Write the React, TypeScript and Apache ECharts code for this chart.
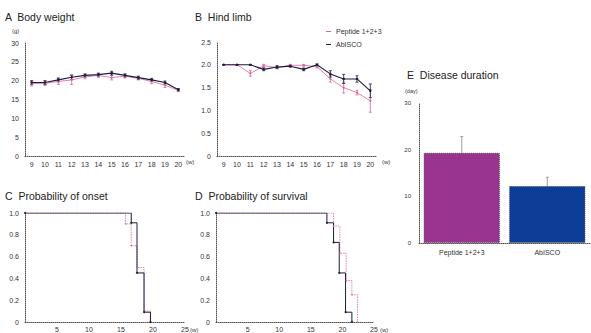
import React, { useEffect, useRef } from "react";
import * as echarts from "echarts";

const weeks = ["9", "10", "11", "12", "13", "14", "15", "16", "17", "18", "19", "20"];

const bwPeptide = [19.2, 19.3, 19.8, 20.2, 21.0, 21.4, 20.8, 21.2, 20.6, 19.8, 18.8, 17.4];
const bwPeptideErr = [0.6, 0.6, 0.8, 1.2, 0.5, 0.5, 0.6, 0.5, 0.4, 0.6, 0.6, 0.3];
const bwAbisco = [19.5, 19.5, 20.2, 20.9, 21.4, 21.6, 22.0, 21.4, 20.8, 20.2, 19.5, 17.6];
const bwAbiscoErr = [0.5, 0.5, 0.5, 0.6, 0.4, 0.4, 0.5, 0.4, 0.4, 0.4, 0.4, 0.3];

const hlPeptide = [2.0, 2.0, 1.81, 1.98, 1.94, 1.99, 1.99, 1.96, 1.69, 1.5, 1.39, 1.21];
const hlPeptideErr = [0, 0, 0.06, 0.03, 0.03, 0.02, 0.02, 0.03, 0.07, 0.12, 0.05, 0.25];
const hlAbisco = [2.0, 2.0, 2.0, 1.9, 1.95, 1.97, 1.9, 2.0, 1.8, 1.69, 1.69, 1.43];
const hlAbiscoErr = [0, 0, 0, 0.03, 0.03, 0.02, 0.03, 0.02, 0.07, 0.1, 0.07, 0.15];

const onsetPeptideX = [0, 15.7, 16.6, 17.5, 18.6, 19.6];
const onsetPeptideY = [1, 0.9, 0.7, 0.5, 0.1, 0];
const onsetAbiscoX = [0, 16.6, 17.5, 18.6, 19.6];
const onsetAbiscoY = [1, 0.91, 0.45, 0.09, 0];

const survPeptideX = [0, 18.6, 19.6, 20.6, 21.5, 22.4];
const survPeptideY = [1, 0.88, 0.63, 0.38, 0.25, 0];
const survAbiscoX = [0, 17.55, 18.6, 19.5, 20.5, 21.5];
const survAbiscoY = [1, 0.91, 0.73, 0.45, 0.09, 0];

const groups = ["Peptide 1+2+3", "AbISCO"];
const duration = [19.3, 12.2];
const durationErr = [3.5, 1.9];

const PINK = "#d8649a";
const DARK = "#1c1c3c";
const AXIS = "#555";
const FONT = "Liberation Sans";

const axisLine = { lineStyle: { color: AXIS, width: 1, type: [1, 1] as any } };
const lbl = { fontSize: 7, color: "#333", fontFamily: FONT };

function errData(vals: number[], errs: number[]) {
  return vals.map((v, i) => [i, v - errs[i], v + errs[i]]);
}

function errSeries(xi: number, data: any[], color: string, capOnlyTop = false) {
  return {
    type: "custom",
    xAxisIndex: xi,
    yAxisIndex: xi,
    silent: true,
    z: 1,
    encode: { x: 0, y: [1, 2] },
    data,
    renderItem: (params: any, api: any) => {
      const x = api.value(0);
      const lo = api.coord([x, api.value(1)]);
      const hi = api.coord([x, api.value(2)]);
      const st = { stroke: color, lineWidth: 0.8 };
      const ch: any[] = [
        { type: "line", shape: { x1: hi[0], y1: hi[1], x2: lo[0], y2: lo[1] }, style: st },
        { type: "line", shape: { x1: hi[0] - 1.5, y1: hi[1], x2: hi[0] + 1.5, y2: hi[1] }, style: st },
      ];
      if (!capOnlyTop)
        ch.push({ type: "line", shape: { x1: lo[0] - 1.5, y1: lo[1], x2: lo[0] + 1.5, y2: lo[1] }, style: st });
      return { type: "group", children: ch };
    },
  };
}

function zip(xs: number[], ys: number[]) {
  return xs.map((x, i) => [x, ys[i]]);
}

export default function App() {
  const ref = useRef<HTMLDivElement>(null);
  useEffect(() => {
    document.body.style.margin = "0";
    const chart = echarts.init(ref.current!, undefined, { renderer: "svg" });
    const titleStyle = { fontSize: 10.5, fontWeight: "normal" as const, color: "#222", fontFamily: FONT };
    const fmt1 = (v: number) => (v === 0 ? "0" : v.toFixed(1));
    const option: any = {
      animation: false,
      backgroundColor: "#fff",
      title: [
        { text: "A  Body weight", left: 3, top: 9, padding: 2, textStyle: titleStyle },
        { text: "B  Hind limb", left: 193, top: 9, padding: 2, textStyle: titleStyle },
        { text: "C  Probability of onset", left: 3, top: 188, padding: 2, textStyle: titleStyle },
        { text: "D  Probability of survival", left: 193, top: 188, padding: 2, textStyle: titleStyle },
        { text: "E  Disease duration", left: 405, top: 67, padding: 2, textStyle: titleStyle },
      ],
      legend: {
        data: groups,
        orient: "vertical",
        left: 321,
        top: 23,
        itemGap: 6,
        itemWidth: 5,
        itemHeight: 1,
        icon: "rect",
        textStyle: { fontSize: 7, color: "#333", fontFamily: FONT },
      },
      grid: [
        { left: 25, top: 43, width: 160, height: 113 },
        { left: 217, top: 42, width: 160, height: 114 },
        { left: 25, top: 213, width: 160, height: 113 },
        { left: 216, top: 213, width: 158, height: 113 },
        { left: 419, top: 103, width: 171, height: 140 },
      ],
      xAxis: [
        { gridIndex: 0, type: "category", data: weeks, boundaryGap: true, axisLine, axisTick: { show: false }, axisLabel: { ...lbl, margin: 5 } },
        { gridIndex: 1, type: "category", data: weeks, boundaryGap: true, axisLine, axisTick: { show: false }, axisLabel: { ...lbl, margin: 5 } },
        { gridIndex: 2, type: "value", min: 0, max: 25, interval: 5, axisLine, axisTick: { show: false }, splitLine: { show: false }, axisLabel: { ...lbl, margin: 4, formatter: (v: number) => (v === 0 ? "" : String(v)) } },
        { gridIndex: 3, type: "value", min: 0, max: 25, interval: 5, axisLine, axisTick: { show: false }, splitLine: { show: false }, axisLabel: { ...lbl, margin: 4, formatter: (v: number) => (v === 0 ? "" : String(v)) } },
        { gridIndex: 4, type: "category", data: groups, boundaryGap: true, axisLine, axisTick: { show: false }, axisLabel: { ...lbl, margin: 6 } },
      ],
      yAxis: [
        { gridIndex: 0, type: "value", min: 0, max: 30, interval: 5, axisLine: { show: true, ...axisLine }, splitLine: { show: false }, axisTick: { show: false }, axisLabel: { ...lbl, margin: 6 } },
        { gridIndex: 1, type: "value", min: 0, max: 2.5, interval: 0.5, axisLine: { show: true, ...axisLine }, splitLine: { show: false }, axisTick: { show: false }, axisLabel: { ...lbl, margin: 6, formatter: fmt1 } },
        { gridIndex: 2, type: "value", min: 0, max: 1, interval: 0.2, axisLine: { show: true, ...axisLine }, splitLine: { show: false }, axisTick: { show: false }, axisLabel: { ...lbl, margin: 6, formatter: fmt1 } },
        { gridIndex: 3, type: "value", min: 0, max: 1, interval: 0.2, axisLine: { show: true, ...axisLine }, splitLine: { show: false }, axisTick: { show: false }, axisLabel: { ...lbl, margin: 6, formatter: fmt1 } },
        { gridIndex: 4, type: "value", min: 0, max: 30, interval: 10, axisLine: { show: true, ...axisLine }, splitLine: { show: false }, axisTick: { show: false }, axisLabel: { ...lbl, fontSize: 6, margin: 8 } },
      ],
      graphic: [
        { type: "text", left: 12, top: 28, style: { text: "(g)", fontSize: 6, fill: "#333", fontFamily: FONT } },
        { type: "text", left: 186, top: 159, style: { text: "(w)", fontSize: 6, fill: "#333", fontFamily: FONT } },
        { type: "text", left: 382, top: 159, style: { text: "(w)", fontSize: 6, fill: "#333", fontFamily: FONT } },
        { type: "text", left: 190, top: 327, style: { text: "(w)", fontSize: 6, fill: "#333", fontFamily: FONT } },
        { type: "text", left: 380, top: 327, style: { text: "(w)", fontSize: 6, fill: "#333", fontFamily: FONT } },
        { type: "text", left: 405, top: 88, style: { text: "(day)", fontSize: 5.5, fill: "#333", fontFamily: FONT } },
      ],
      series: [
        errSeries(0, errData(bwPeptide, bwPeptideErr), PINK),
        errSeries(0, errData(bwAbisco, bwAbiscoErr), DARK),
        { name: groups[0], type: "line", xAxisIndex: 0, yAxisIndex: 0, data: bwPeptide, symbol: "circle", symbolSize: 2, lineStyle: { color: PINK, width: 0.8 }, itemStyle: { color: PINK } },
        { name: groups[1], type: "line", xAxisIndex: 0, yAxisIndex: 0, data: bwAbisco, symbol: "circle", symbolSize: 2.5, lineStyle: { color: DARK, width: 1.1 }, itemStyle: { color: DARK } },
        errSeries(1, errData(hlPeptide, hlPeptideErr), PINK),
        errSeries(1, errData(hlAbisco, hlAbiscoErr), DARK),
        { name: groups[0], type: "line", xAxisIndex: 1, yAxisIndex: 1, data: hlPeptide, symbol: "circle", symbolSize: 2, lineStyle: { color: PINK, width: 0.8 }, itemStyle: { color: PINK } },
        { name: groups[1], type: "line", xAxisIndex: 1, yAxisIndex: 1, data: hlAbisco, symbol: "circle", symbolSize: 2.5, lineStyle: { color: DARK, width: 1.1 }, itemStyle: { color: DARK } },
        { name: groups[0], type: "line", step: "end", xAxisIndex: 2, yAxisIndex: 2, data: zip(onsetPeptideX, onsetPeptideY), symbol: "circle", symbolSize: 1.5, lineStyle: { color: PINK, width: 0.8, type: [1.5, 1] }, itemStyle: { color: PINK } },
        { name: groups[1], type: "line", step: "end", xAxisIndex: 2, yAxisIndex: 2, data: zip(onsetAbiscoX, onsetAbiscoY), symbol: "circle", symbolSize: 2, lineStyle: { color: DARK, width: 1 }, itemStyle: { color: DARK } },
        { name: groups[0], type: "line", step: "end", xAxisIndex: 3, yAxisIndex: 3, data: zip(survPeptideX, survPeptideY), symbol: "circle", symbolSize: 1.5, lineStyle: { color: PINK, width: 0.8, type: [1.5, 1] }, itemStyle: { color: PINK } },
        { name: groups[1], type: "line", step: "end", xAxisIndex: 3, yAxisIndex: 3, data: zip(survAbiscoX, survAbiscoY), symbol: "circle", symbolSize: 2, lineStyle: { color: DARK, width: 1 }, itemStyle: { color: DARK } },
        {
          type: "bar",
          xAxisIndex: 4,
          yAxisIndex: 4,
          barWidth: "89%",
          data: duration.map((v, i) => ({
            value: v,
            itemStyle: { color: i === 0 ? "#9a3491" : "#0c3d97", borderColor: "#333", borderWidth: 0.8, borderType: [1, 1] },
          })),
        },
        errSeries(4, duration.map((v, i) => [i, v, v + durationErr[i]]), "#888", true),
      ],
    };
    chart.setOption(option);
    return () => chart.dispose();
  }, []);
  return <div ref={ref} style={{ width: 591, height: 333 }} />;
}
